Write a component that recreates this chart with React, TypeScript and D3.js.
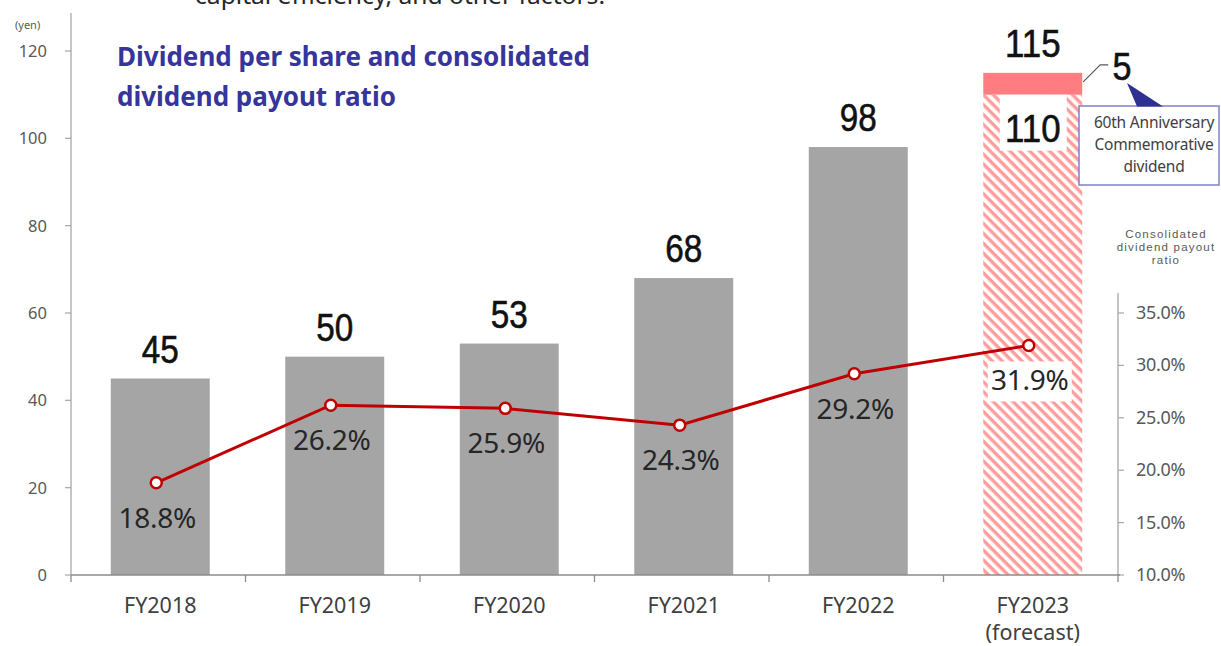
import React from "react";
import * as d3 from "d3";

const categories = ["FY2018", "FY2019", "FY2020", "FY2021", "FY2022", "FY2023"];
const categorySubLabels = ["", "", "", "", "", "(forecast)"];
const ordinaryDividend = [45, 50, 53, 68, 98, 110];
const commemorativeDividend = [0, 0, 0, 0, 0, 5];
const forecastFlags = [false, false, false, false, false, true];
const payoutRatio = [18.8, 26.2, 25.9, 24.3, 29.2, 31.9];
const leftTicks = [0, 20, 40, 60, 80, 100, 120];
const rightTicks = [10, 15, 20, 25, 30, 35];
const titleLines = ["Dividend per share and consolidated", "dividend payout ratio"];
const rightAxisTitle = ["Consolidated", "dividend payout", "ratio"];
const calloutLines = ["60th Anniversary", "Commemorative", "dividend"];
const topCutText = "capital efficiency, and other factors.";

const W = 1221;
const H = 646;
const plotLeft = 71;
const plotRight = 1118;
const baseY = 575;

export default function App() {
  const x = d3
    .scaleBand<string>()
    .domain(categories)
    .range([plotLeft + 2, plotRight + 2])
    .paddingInner(0.433)
    .paddingOuter(0.2165);
  const step = x.step();
  const yL = d3.scaleLinear().domain([0, 120]).range([baseY, 51]);
  const yR = d3.scaleLinear().domain([10, 35]).range([baseY, 313]);
  const bw = x.bandwidth();
  const cx = (c: string) => (x(c) as number) + bw / 2;
  const lineOffset = -4;

  const linePath = d3
    .line<number>()
    .x((_, i) => cx(categories[i]) + lineOffset)
    .y((d) => yR(d))(payoutRatio) as string;

  const boundaries = d3.range(categories.length + 1).map((i) => plotLeft + i * step);

  const valueFont = "'Liberation Sans', Arial, sans-serif";
  const uiFont = "'Noto Sans', 'Open Sans', sans-serif";

  return (
    <svg width={W} height={H} style={{ position: "fixed", left: 0, top: 0, background: "#fff" }}>
      <defs>
        <pattern id="hatch" patternUnits="userSpaceOnUse" width="7" height="7" patternTransform="rotate(45)">
          <rect width="7" height="7" fill="#ffffff" />
          <rect width="7" height="3.4" fill="#ff9c9c" />
        </pattern>
      </defs>

      {/* cut-off text at top (clipped in the source too) */}
      <text x={195} y={4} fontFamily={uiFont} fontSize={23} fill="#262626" textLength={410} lengthAdjust="spacingAndGlyphs">
        {topCutText}
      </text>

      {/* title */}
      <text x={117} y={66} fontFamily={uiFont} fontWeight={700} fontSize={26} fill="#35359b">
        {titleLines.map((t, i) => (
          <tspan key={t} x={117} dy={i === 0 ? 0 : 40}>
            {t}
          </tspan>
        ))}
      </text>

      {/* left axis */}
      <text x={15} y={29} fontFamily={uiFont} fontSize={11} fill="#595959">(yen)</text>
      <line x1={plotLeft} x2={plotLeft} y1={13} y2={baseY} stroke="#a6a6a6" strokeWidth={1.3} />
      {leftTicks.map((t) => (
        <g key={t}>
          <line x1={plotLeft - 6} x2={plotLeft} y1={yL(t)} y2={yL(t)} stroke="#a6a6a6" strokeWidth={1.2} />
          <text x={47} y={yL(t) + 6} textAnchor="end" fontFamily={uiFont} fontSize={16.5} fill="#595959">
            {t}
          </text>
        </g>
      ))}

      {/* bars */}
      {categories.map((c, i) => {
        const x0 = x(c) as number;
        const top1 = yL(ordinaryDividend[i]);
        return (
          <g key={c}>
            <rect
              x={x0}
              y={top1}
              width={bw}
              height={baseY - top1}
              fill={forecastFlags[i] ? "url(#hatch)" : "#a5a5a5"}
            />
            {commemorativeDividend[i] > 0 && (
              <rect
                x={x0}
                y={yL(ordinaryDividend[i] + commemorativeDividend[i])}
                width={bw}
                height={top1 - yL(ordinaryDividend[i] + commemorativeDividend[i])}
                fill="#ff7c80"
              />
            )}
          </g>
        );
      })}

      {/* right axis */}
      <line x1={plotRight} x2={plotRight} y1={293} y2={baseY} stroke="#a6a6a6" strokeWidth={1.3} />
      {rightTicks.map((t) => (
        <g key={t}>
          <line x1={plotRight} x2={plotRight + 6} y1={yR(t)} y2={yR(t)} stroke="#a6a6a6" strokeWidth={1.2} />
          <text x={1136} y={yR(t) + 6} fontFamily={uiFont} fontSize={18} fill="#595959" letterSpacing={-0.3}>
            {d3.format(".1f")(t)}%
          </text>
        </g>
      ))}
      <text x={1166} y={238} textAnchor="middle" fontFamily={valueFont} fontSize={11.5} fill="#595959" letterSpacing={1.2}>
        {rightAxisTitle.map((t, i) => (
          <tspan key={t} x={1166} dy={i === 0 ? 0 : 13}>
            {t}
          </tspan>
        ))}
      </text>

      {/* baseline & x ticks */}
      <line x1={plotLeft} x2={plotRight + 2} y1={baseY} y2={baseY} stroke="#8c8c8c" strokeWidth={1.6} />
      {boundaries.map((b, i) => (
        <line key={i} x1={b} x2={b} y1={baseY} y2={baseY + 7} stroke="#8c8c8c" strokeWidth={1.3} />
      ))}
      {categories.map((c, i) => (
        <text key={c} x={cx(c)} y={613} textAnchor="middle" fontFamily={uiFont} fontSize={21.5} fill="#404040">
          <tspan x={cx(c)} dy={0}>{c}</tspan>
          {categorySubLabels[i] && (
            <tspan x={cx(c)} dy={27}>
              {categorySubLabels[i]}
            </tspan>
          )}
        </text>
      ))}

      {/* value labels above bars */}
      {categories.map((c, i) => {
        const total = ordinaryDividend[i] + commemorativeDividend[i];
        const s = String(total);
        return (
          <text
            key={c}
            x={cx(c)}
            y={yL(total) - 16}
            textAnchor="middle"
            fontFamily={valueFont}
            fontSize={38}
            fill="#111"
            stroke="#111"
            strokeWidth={0.6}
            textLength={s.length * 18.5}
            lengthAdjust="spacingAndGlyphs"
          >
            {s}
          </text>
        );
      })}

      {/* inner label for forecast ordinary dividend */}
      {categories.map((c, i) =>
        forecastFlags[i] ? (
          <g key={c}>
            <rect x={cx(c) - 33} y={yL(ordinaryDividend[i])} width={67} height={56} fill="#fff" />
            <text
              x={cx(c)}
              y={yL(ordinaryDividend[i]) + 47}
              textAnchor="middle"
              fontFamily={valueFont}
              fontSize={38}
              fill="#111"
              stroke="#111"
              strokeWidth={0.6}
              textLength={String(ordinaryDividend[i]).length * 18.5}
              lengthAdjust="spacingAndGlyphs"
            >
              {ordinaryDividend[i]}
            </text>
          </g>
        ) : null
      )}

      {/* commemorative callout */}
      {categories.map((c, i) => {
        if (!commemorativeDividend[i]) return null;
        const x1 = (x(c) as number) + bw;
        const yTop = yL(ordinaryDividend[i] + commemorativeDividend[i]);
        return (
          <g key={c}>
            <polyline
              points={`${x1 + 1},${yTop + 9} ${x1 + 18},${yTop - 8} ${x1 + 26},${yTop - 8}`}
              fill="none"
              stroke="#595959"
              strokeWidth={1.2}
            />
            <text x={1122} y={80} textAnchor="middle" fontFamily={valueFont} fontSize={38} fill="#111" stroke="#111" strokeWidth={0.6} textLength={19} lengthAdjust="spacingAndGlyphs">
              {commemorativeDividend[i]}
            </text>
            <rect x={1079} y={106} width={140} height={79} fill="#fff" stroke="#8080cc" strokeWidth={1.5} />
            <polygon points="1127,83 1137,106.5 1163,106.5" fill="#2e3192" />
            <text x={1154} y={128} textAnchor="middle" fontFamily={uiFont} fontSize={15.5} fill="#404040" letterSpacing={-0.2}>
              {calloutLines.map((t, j) => (
                <tspan key={t} x={1154} dy={j === 0 ? 0 : 22}>
                  {t}
                </tspan>
              ))}
            </text>
          </g>
        );
      })}

      {/* payout ratio line */}
      <path d={linePath} fill="none" stroke="#c00000" strokeWidth={3} />
      {payoutRatio.map((v, i) => {
        const px = cx(categories[i]) + lineOffset;
        const py = yR(v);
        const label = d3.format(".1f")(v) + "%";
        return (
          <g key={i}>
            <circle cx={px} cy={py} r={5.5} fill="#fff" stroke="#c00000" strokeWidth={2.5} />
            {forecastFlags[i] && <rect x={px - 41} y={py + 16} width={84} height={40} fill="#fff" />}
            <text x={px + 1} y={py + 45} textAnchor="middle" fontFamily={uiFont} fontSize={28} fill="#262626" letterSpacing={-0.3}>
              {label}
            </text>
          </g>
        );
      })}
    </svg>
  );
}
